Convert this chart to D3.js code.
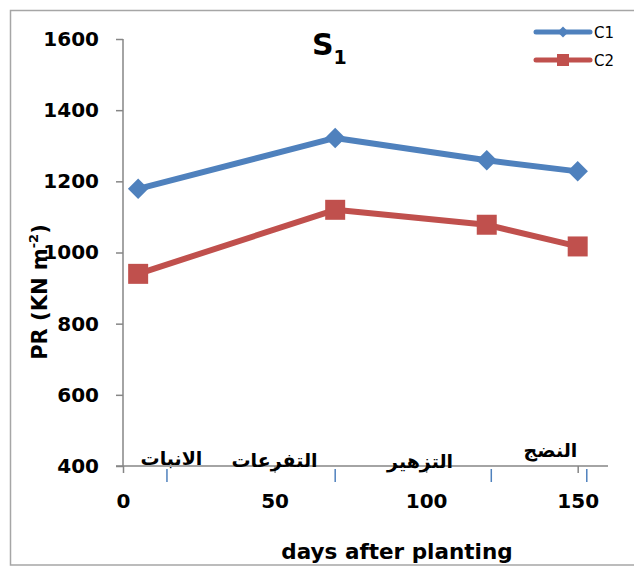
<!DOCTYPE html>
<html>
<head>
<meta charset="utf-8">
<script src="https://cdn.jsdelivr.net/npm/d3@7"></script>
<style>
  html, body { margin: 0; padding: 0; background: #fff; overflow: hidden; }
  svg { display: block; }
  text { font-family: "DejaVu Sans", sans-serif; }
</style>
</head>
<body>
<svg id="chart" width="634" height="566"></svg>
<script>
// Sampling days and press-resistance values for the two treatments
const days = [5, 70, 120, 150];
const c1Values = [1179, 1322, 1259, 1228];
const c2Values = [940, 1120, 1078, 1017];
const seriesNames = ["C1", "C2"];

// Axis ticks
const yTicks = [400, 600, 800, 1000, 1200, 1400, 1600];
const xTicks = [0, 50, 100, 150];

// Growth stages written along the day axis, with the day each label sits at
const stageNames = ["الانبات", "التفرعات", "التزهير", "النضج"];
const stageDays = [16, 50, 98, 141];
const stageBoundaryDays = [14.5, 70, 121.5, 153];

const svg = d3.select("#chart");

// Outer chart frame (runs off the right edge)
svg.append("rect")
  .attr("x", 10.5).attr("y", 10.5)
  .attr("width", 700).attr("height", 554.5)
  .attr("fill", "none").attr("stroke", "#a6a6a6").attr("stroke-width", 1.5);

const x = d3.scaleLinear().domain([0, 160]).range([123, 608]);
const y = d3.scaleLinear().domain([400, 1600]).range([466, 39]);

const axisColor = "#868686";
const labelFont = 20;

// Y axis
const yAxis = svg.append("g")
  .attr("transform", `translate(${x(0)},0)`)
  .call(d3.axisLeft(y).tickValues(yTicks).tickSize(7).tickPadding(17).tickFormat(d3.format("d")));
yAxis.select(".domain").attr("stroke", axisColor).attr("stroke-width", 1.5)
  .attr("d", `M0,${y(1600)}V${y(400)}`);
yAxis.selectAll(".tick line").attr("stroke", axisColor).attr("stroke-width", 1.5);
yAxis.selectAll(".tick text")
  .attr("fill", "#000").attr("font-size", labelFont).attr("font-weight", "bold")
  .attr("font-family", "DejaVu Sans, sans-serif");

// X axis
const xAxis = svg.append("g")
  .attr("transform", `translate(0,${y(400)})`)
  .call(d3.axisBottom(x).tickValues(xTicks).tickSize(7).tickPadding(21).tickFormat(d3.format("d")));
xAxis.select(".domain").attr("stroke", axisColor).attr("stroke-width", 1.5)
  .attr("d", `M${x(0) - 7},0H${x(160)}`);
xAxis.selectAll(".tick line").attr("stroke", axisColor).attr("stroke-width", 1.5);
xAxis.selectAll(".tick text")
  .attr("fill", "#000").attr("font-size", labelFont).attr("font-weight", "bold")
  .attr("font-family", "DejaVu Sans, sans-serif");

// Stage boundary marks below the day axis
svg.append("g").selectAll("line")
  .data(stageBoundaryDays)
  .join("line")
  .attr("x1", d => x(d)).attr("x2", d => x(d))
  .attr("y1", y(400) + 3).attr("y2", y(400) + 16)
  .attr("stroke", "#4f81bd").attr("stroke-width", 1.5);

// Stage names
const stageY = [465, 467, 468, 457];
svg.append("g").selectAll("text")
  .data(stageNames)
  .join("text")
  .attr("x", (d, i) => x(stageDays[i]))
  .attr("y", (d, i) => stageY[i])
  .attr("text-anchor", "middle")
  .attr("direction", "rtl")
  .attr("font-size", 19).attr("font-weight", "bold")
  .attr("fill", "#000")
  .text(d => d);

// Series
const colors = ["#4f81bd", "#c0504d"];
const series = [c1Values, c2Values].map((vals, i) => ({
  name: seriesNames[i],
  color: colors[i],
  points: days.map((d, j) => ({ day: d, value: vals[j] }))
}));

const line = d3.line().x(d => x(d.day)).y(d => y(d.value));

series.forEach((s, i) => {
  svg.append("path")
    .datum(s.points)
    .attr("d", line)
    .attr("fill", "none")
    .attr("stroke", s.color)
    .attr("stroke-width", 6)
    .attr("stroke-linejoin", "round");
  // diamonds for C1, squares for C2
  svg.append("g").selectAll("path")
    .data(s.points)
    .join("path")
    .attr("d", d3.symbol(d3.symbolSquare, i === 0 ? 210 : 400)())
    .attr("transform", d => i === 0
      ? `translate(${x(d.day)},${y(d.value)}) rotate(45)`
      : `translate(${x(d.day)},${y(d.value)})`)
    .attr("fill", s.color);
});

// Legend
const legend = svg.append("g");
series.forEach((s, i) => {
  const ly = 32 + i * 28;
  legend.append("line")
    .attr("x1", 536).attr("x2", 590).attr("y1", ly).attr("y2", ly)
    .attr("stroke", s.color).attr("stroke-width", 5).attr("stroke-linecap", "round");
  legend.append("path")
    .attr("d", d3.symbol(d3.symbolSquare, i === 0 ? 60 : 144)())
    .attr("transform", i === 0 ? `translate(563,${ly}) rotate(45)` : `translate(563,${ly})`)
    .attr("fill", s.color);
  legend.append("text")
    .attr("x", 594).attr("y", ly + 6)
    .attr("font-size", 15).attr("fill", "#000")
    .text(s.name);
});

// Title S1
const title = svg.append("text")
  .attr("x", 312).attr("y", 55)
  .attr("font-size", 30).attr("font-weight", "bold").attr("fill", "#000");
title.append("tspan").text("S");
title.append("tspan").attr("font-size", 19).attr("dy", 9).text("1");

// Axis titles
const yTitle = svg.append("text")
  .attr("transform", `translate(47,292) rotate(-90)`)
  .attr("text-anchor", "middle")
  .attr("font-size", 21).attr("font-weight", "bold").attr("fill", "#000");
yTitle.append("tspan").text("PR (KN m");
yTitle.append("tspan").attr("font-size", 13).attr("dy", -9).text("-2");
yTitle.append("tspan").attr("dy", 9).text(")");

svg.append("text")
  .attr("x", 397).attr("y", 559)
  .attr("text-anchor", "middle")
  .attr("font-size", 21.5).attr("font-weight", "bold").attr("fill", "#000")
  .text("days after planting");
</script>
</body>
</html>
